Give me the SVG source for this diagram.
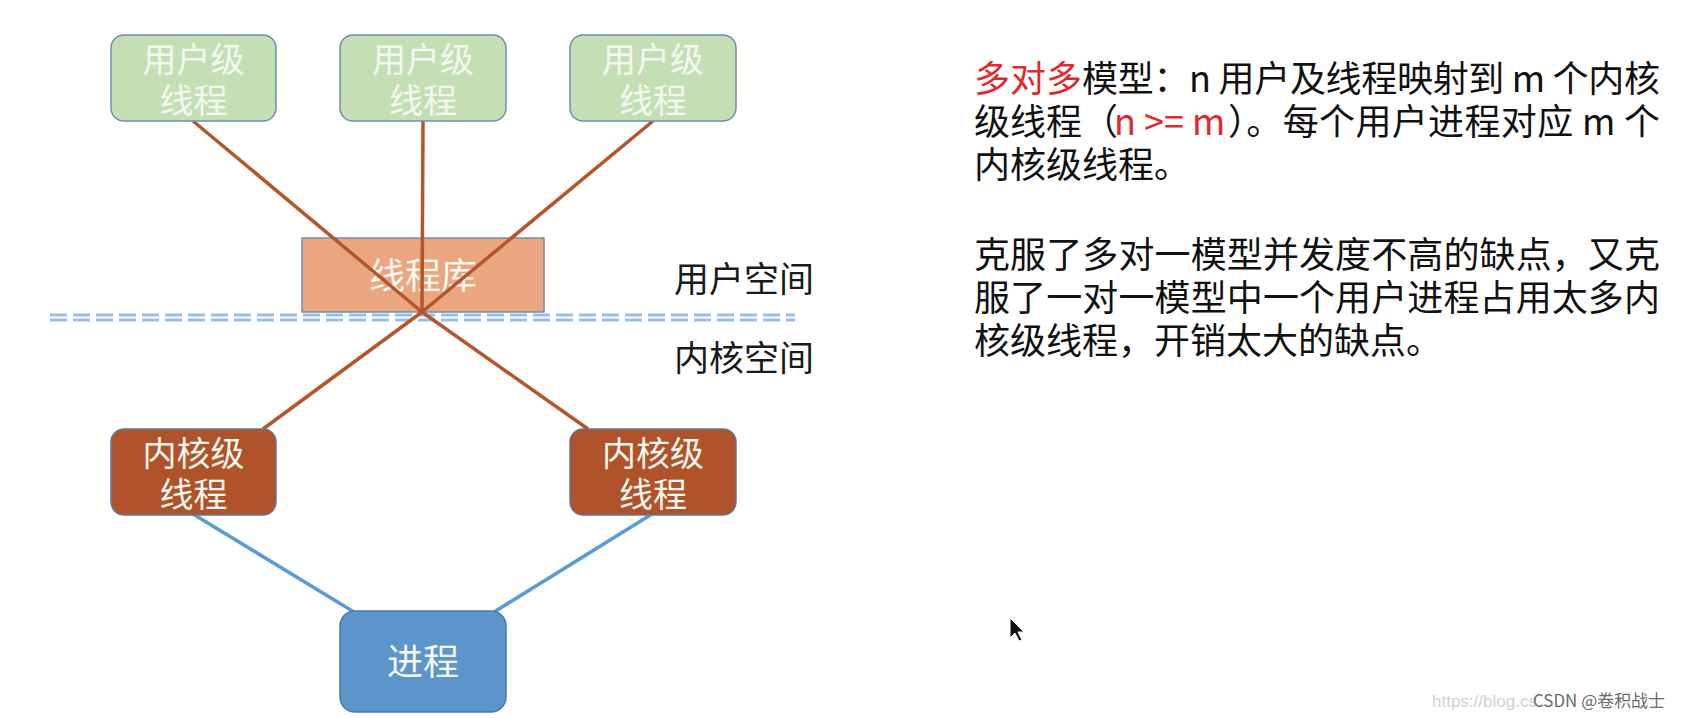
<svg xmlns="http://www.w3.org/2000/svg" width="1684" height="718" viewBox="0 0 1684 718">
<style>
.cjk{font-family:"Noto Sans CJK SC","Noto Sans",sans-serif}
.ub{fill:#c5dfb5;stroke:#6f8fae;stroke-width:1.5}
.kb{fill:#b0532a;stroke:#5f7894;stroke-width:1.5}
.nt{font-size:34px;fill:#f4f7ef;text-anchor:middle}
.br{stroke:#b5552c;stroke-width:3.5;fill:none}
.bl{stroke:#5b9bd5;stroke-width:3.5;fill:none}
.lbl{font-size:35px;fill:#1a1a1a}
.para{font-size:36px;fill:#111}
.red{fill:#e0282e}
.dash{stroke:#98bde6;stroke-width:2.8;stroke-dasharray:17,6}
</style>
<rect width="1684" height="718" fill="#ffffff"/>
<g id="library">
<rect x="302" y="238" width="242" height="74" fill="#eaa67f" stroke="#6f8fae" stroke-width="1.5"/>
<text class="cjk nt" x="423" y="289" style="font-size:36px">线程库</text>
</g>
<g id="divider">
<line class="dash" x1="50" y1="315" x2="795" y2="315"/>
<line class="dash" x1="50" y1="320" x2="795" y2="320"/>
</g>
<g id="connectors">
<line class="br" x1="193" y1="121" x2="422" y2="312"/>
<line class="br" x1="423" y1="121" x2="422" y2="312"/>
<line class="br" x1="653" y1="121" x2="422" y2="312"/>
<line class="br" x1="422" y1="312" x2="263" y2="429"/>
<line class="br" x1="422" y1="312" x2="588" y2="429"/>
<line class="bl" x1="193" y1="514" x2="354" y2="612"/>
<line class="bl" x1="652" y1="514" x2="494" y2="612"/>
</g>
<g id="user1">
<rect class="ub" x="111" y="35" width="165" height="86" rx="13"/>
<text class="cjk nt" x="193.5" y="72">用户级</text>
<text class="cjk nt" x="193.5" y="113">线程</text>
</g>
<g id="user2">
<rect class="ub" x="340" y="35" width="166" height="86" rx="13"/>
<text class="cjk nt" x="423" y="72">用户级</text>
<text class="cjk nt" x="423" y="113">线程</text>
</g>
<g id="user3">
<rect class="ub" x="570" y="35" width="166" height="86" rx="13"/>
<text class="cjk nt" x="653" y="72">用户级</text>
<text class="cjk nt" x="653" y="113">线程</text>
</g>
<g id="kernel1">
<rect class="kb" x="111" y="429" width="165" height="86" rx="13"/>
<text class="cjk nt" x="193.5" y="466">内核级</text>
<text class="cjk nt" x="193.5" y="507">线程</text>
</g>
<g id="kernel2">
<rect class="kb" x="570" y="429" width="166" height="86" rx="13"/>
<text class="cjk nt" x="653" y="466">内核级</text>
<text class="cjk nt" x="653" y="507">线程</text>
</g>
<g id="process">
<rect x="340" y="611" width="166" height="101" rx="15" fill="#5b95cb" stroke="#4a7aab" stroke-width="1.5"/>
<text class="cjk nt" x="423" y="675" style="font-size:36px">进程</text>
</g>
<g id="space-labels">
<text class="cjk lbl" x="674" y="292">用户空间</text>
<text class="cjk lbl" x="674" y="371">内核空间</text>
</g>
<g id="description">
<text class="cjk para red" x="974" y="92">多对多</text>
<text class="cjk para" x="1082" y="92" textLength="578" lengthAdjust="spacing" xml:space="preserve">模型：n 用户及线程映射到 m 个内核</text>
<text class="cjk para" x="974" y="135">级线程（</text>
<text class="cjk para red" x="1114" y="135" xml:space="preserve">n &gt;= m</text>
<text class="cjk para" x="1228" y="135" textLength="432" lengthAdjust="spacing" xml:space="preserve">）。每个用户进程对应 m 个</text>
<text class="cjk para" x="974" y="178">内核级线程。</text>
<text class="cjk para" x="974" y="268" textLength="686" lengthAdjust="spacing">克服了多对一模型并发度不高的缺点，又克</text>
<text class="cjk para" x="974" y="311" textLength="686" lengthAdjust="spacing">服了一对一模型中一个用户进程占用太多内</text>
<text class="cjk para" x="974" y="354">核级线程，开销太大的缺点。</text>
</g>
<g id="cursor">
<path d="M1010,618 L1010,638 L1015,633 L1019,641 L1022,640 L1018,632 L1024,632 Z" fill="#111" stroke="#ffffff" stroke-width="1"/>
</g>
<g id="watermark">
<text x="1432" y="707" font-family="'Liberation Sans',sans-serif" font-size="17" fill="#d0d0d0">https://blog.cs</text>
<text class="cjk" x="1533" y="707" font-size="17" fill="#6a6a6a" textLength="132" lengthAdjust="spacingAndGlyphs">CSDN @卷积战士</text>
</g>
</svg>
